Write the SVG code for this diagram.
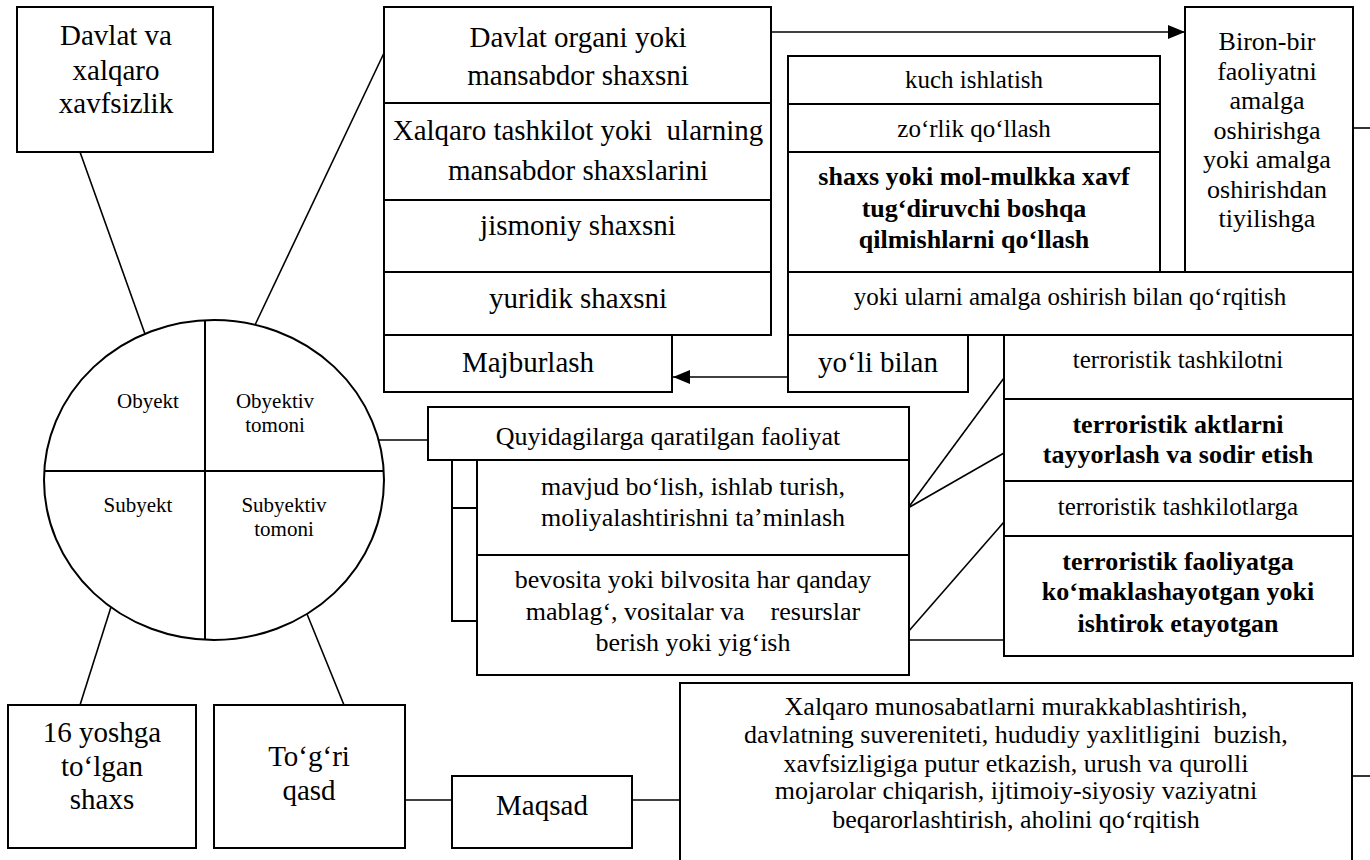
<svg xmlns="http://www.w3.org/2000/svg" width="1370" height="860" viewBox="0 0 1370 860">
<defs>
<style>
.box{fill:#fff;stroke:#000;stroke-width:2}
.sep{stroke:#000;stroke-width:2;fill:none}
.ln{stroke:#000;stroke-width:1.6;fill:none}
.t{font-family:"Liberation Serif","Times New Roman",serif;fill:#000;text-anchor:middle;white-space:pre}
.f29{font-size:29px}
.f26{font-size:26px}
.f25{font-size:25px}
.f21{font-size:21px}
.b{font-weight:bold}
</style>
<marker id="arr" markerUnits="userSpaceOnUse" markerWidth="18" markerHeight="14" refX="17" refY="7" orient="auto">
<path d="M0,0 L17,7 L0,14 Z" fill="#000"/>
</marker>
</defs>
<rect width="1370" height="860" fill="#fff"/>

<g id="connectors">
<line class="ln" x1="80" y1="152" x2="145" y2="334"/>
<line class="ln" x1="384" y1="53" x2="255" y2="325"/>
<line class="ln" x1="111" y1="607" x2="80" y2="705"/>
<line class="ln" x1="307" y1="614" x2="344" y2="705"/>
<line class="ln" x1="379" y1="440" x2="428" y2="440"/>
<path class="sep" d="M452,460 V621 H477 M452,508 H477"/>
<line class="ln" x1="771" y1="32" x2="1185" y2="32" marker-end="url(#arr)"/>
<line class="ln" x1="788" y1="377" x2="673" y2="377" marker-end="url(#arr)"/>
<line class="ln" x1="908" y1="508" x2="1004" y2="378"/>
<line class="ln" x1="908" y1="508" x2="1004" y2="453"/>
<line class="ln" x1="908" y1="632" x2="1004" y2="522"/>
<line class="ln" x1="908" y1="640" x2="1004" y2="640"/>
<line class="ln" x1="405" y1="800" x2="452" y2="800"/>
<line class="ln" x1="632" y1="800" x2="680" y2="800"/>
<line class="ln" x1="1353" y1="128" x2="1370" y2="128"/>
<line class="ln" x1="1352" y1="776" x2="1370" y2="776"/>
</g>

<g id="n-security">
<rect class="box" x="17" y="7" width="196" height="145"/>
<text class="t f29" x="116" y="45">Davlat va</text>
<text class="t f29" x="116" y="80">xalqaro</text>
<text class="t f29" x="116" y="113">xavfsizlik</text>
</g>

<g id="n-target">
<rect class="box" x="384" y="7" width="387" height="328"/>
<path class="sep" d="M384,103 H771 M384,200 H771 M384,272 H771"/>
<text class="t f29" x="578" y="47">Davlat organi yoki</text>
<text class="t f29" x="578" y="85">mansabdor shaxsni</text>
<text class="t f29" x="578" y="140">Xalqaro tashkilot yoki  ularning</text>
<text class="t f29" x="578" y="180">mansabdor shaxslarini</text>
<text class="t f29" x="578" y="235">jismoniy shaxsni</text>
<text class="t f29" x="578" y="308">yuridik shaxsni</text>
</g>

<g id="n-majburlash">
<rect class="box" x="384" y="335" width="288" height="57"/>
<text class="t f29" x="528" y="372">Majburlash</text>
</g>

<g id="n-methods">
<rect class="box" x="788" y="56" width="372" height="216"/>
<path class="sep" d="M788,104 H1160 M788,152 H1160"/>
<text class="t f25" x="974" y="88">kuch ishlatish</text>
<text class="t f25" x="974" y="137">zo‘rlik qo‘llash</text>
<text class="t f26 b" x="974" y="185">shaxs yoki mol-mulkka xavf</text>
<text class="t f26 b" x="974" y="217">tug‘diruvchi boshqa</text>
<text class="t f26 b" x="974" y="248">qilmishlarni qo‘llash</text>
</g>

<g id="n-biron">
<rect class="box" x="1185" y="7" width="168" height="265"/>
<text class="t f26" x="1267" y="50">Biron-bir</text>
<text class="t f26" x="1267" y="80">faoliyatni</text>
<text class="t f26" x="1267" y="109">amalga</text>
<text class="t f26" x="1267" y="139">oshirishga</text>
<text class="t f26" x="1267" y="168">yoki amalga</text>
<text class="t f26" x="1267" y="198">oshirishdan</text>
<text class="t f26" x="1267" y="227">tiyilishga</text>
</g>

<g id="n-threat">
<rect class="box" x="788" y="272" width="565" height="63"/>
<text class="t f25" x="1070" y="305">yoki ularni amalga oshirish bilan qo‘rqitish</text>
</g>

<g id="n-yoli">
<rect class="box" x="788" y="335" width="180" height="57"/>
<text class="t f29" x="878" y="372">yo‘li bilan</text>
</g>

<g id="n-terror">
<rect class="box" x="1004" y="335" width="349" height="321"/>
<path class="sep" d="M1004,399 H1353 M1004,481 H1353 M1004,536 H1353"/>
<text class="t f25" x="1178" y="368">terroristik tashkilotni</text>
<text class="t f26 b" x="1178" y="433">terroristik aktlarni</text>
<text class="t f26 b" x="1178" y="463">tayyorlash va sodir etish</text>
<text class="t f25" x="1178" y="515">terroristik tashkilotlarga</text>
<text class="t f26 b" x="1178" y="570">terroristik faoliyatga</text>
<text class="t f26 b" x="1178" y="600">ko‘maklashayotgan yoki</text>
<text class="t f26 b" x="1178" y="632">ishtirok etayotgan</text>
</g>

<g id="n-crime">
<ellipse class="box" cx="214" cy="480" rx="170" ry="160"/>
<path class="sep" d="M205,320 V640 M44,471 H384"/>
<text class="t f21" x="148" y="408">Obyekt</text>
<text class="t f21" x="275" y="408">Obyektiv</text>
<text class="t f21" x="275" y="432">tomoni</text>
<text class="t f21" x="138" y="512">Subyekt</text>
<text class="t f21" x="284" y="512">Subyektiv</text>
<text class="t f21" x="284" y="536">tomoni</text>
</g>

<g id="n-activity">
<rect class="box" x="428" y="407" width="481" height="53"/>
<text class="t f26" x="668" y="445">Quyidagilarga qaratilgan faoliyat</text>
<rect class="box" x="477" y="460" width="432" height="215"/>
<path class="sep" d="M477,555 H909"/>
<text class="t f26" x="693" y="495">mavjud bo‘lish, ishlab turish,</text>
<text class="t f26" x="693" y="526">moliyalashtirishni ta’minlash</text>
<text class="t f26" x="693" y="588">bevosita yoki bilvosita har qanday</text>
<text class="t f26" x="693" y="620">mablag‘, vositalar va    resurslar</text>
<text class="t f26" x="693" y="651">berish yoki yig‘ish</text>
</g>

<g id="n-age">
<rect class="box" x="8" y="705" width="188" height="143"/>
<text class="t f29" x="102" y="742">16 yoshga</text>
<text class="t f29" x="102" y="776">to‘lgan</text>
<text class="t f29" x="102" y="809">shaxs</text>
</g>

<g id="n-intent">
<rect class="box" x="214" y="705" width="191" height="143"/>
<text class="t f29" x="309" y="766">To‘g‘ri</text>
<text class="t f29" x="309" y="800">qasd</text>
</g>

<g id="n-maqsad">
<rect class="box" x="452" y="776" width="180" height="72"/>
<text class="t f29" x="542" y="815">Maqsad</text>
</g>

<g id="n-goal">
<rect class="box" x="680" y="683" width="672" height="190"/>
<text class="t f26" x="1016" y="715">Xalqaro munosabatlarni murakkablashtirish,</text>
<text class="t f26" x="1016" y="743">davlatning suvereniteti, hududiy yaxlitligini  buzish,</text>
<text class="t f26" x="1016" y="772">xavfsizligiga putur etkazish, urush va qurolli</text>
<text class="t f26" x="1016" y="799">mojarolar chiqarish, ijtimoiy-siyosiy vaziyatni</text>
<text class="t f26" x="1016" y="828">beqarorlashtirish, aholini qo‘rqitish</text>
</g>
</svg>
